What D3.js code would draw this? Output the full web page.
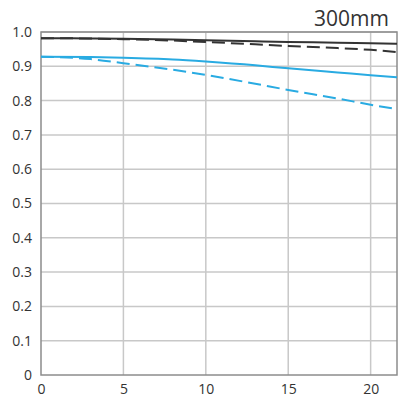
<!DOCTYPE html>
<html>
<head>
<meta charset="utf-8">
<script src="https://cdn.jsdelivr.net/npm/d3@7"></script>
<style>
  body { margin: 0; background: #fff; }
  text { font-family: "Open Sans", "DejaVu Sans", sans-serif; fill: #333; }
</style>
</head>
<body>
<div id="chart"></div>
<script>
// image height (mm)
var xValues = [0, 3, 5, 8, 10, 13, 15, 18, 20, 21.6];

// MTF values
var blackSolid  = [0.982, 0.981, 0.980, 0.978, 0.976, 0.973, 0.971, 0.969, 0.967, 0.966];
var blackDashed = [0.982, 0.981, 0.979, 0.975, 0.971, 0.964, 0.959, 0.953, 0.948, 0.941];
var blueSolid   = [0.928, 0.927, 0.925, 0.920, 0.914, 0.903, 0.894, 0.882, 0.874, 0.868];
var blueDashed  = [0.928, 0.921, 0.909, 0.890, 0.875, 0.849, 0.831, 0.806, 0.788, 0.775];

var xTicks = [0, 5, 10, 15, 20];
var yTicks = [0, 0.1, 0.2, 0.3, 0.4, 0.5, 0.6, 0.7, 0.8, 0.9, 1.0];
var title = "300mm";

var svgWidth = 410;
var svgHeight = 412;
var margin = { top: 32, bottom: 37, right: 13, left: 41 };
var width = svgWidth - margin.left - margin.right;
var height = svgHeight - margin.top - margin.bottom;

var svg = d3.select("#chart")
  .append("svg")
  .attr("width", svgWidth)
  .attr("height", svgHeight);

var chartGroup = svg.append("g")
  .attr("transform", `translate(${margin.left}, ${margin.top})`);

var xscale = d3.scaleLinear().domain([0, 21.6]).range([0, width]);
var yscale = d3.scaleLinear().domain([0, 1]).range([height, 0]);

// grid lines
chartGroup.selectAll(".vgrid")
  .data(xTicks.slice(1))
  .enter()
  .append("line")
  .attr("x1", d => xscale(d)).attr("x2", d => xscale(d))
  .attr("y1", 0).attr("y2", height)
  .attr("stroke", "#c8c8c8")
  .attr("stroke-width", 1.5);

chartGroup.selectAll(".hgrid")
  .data(yTicks.slice(1))
  .enter()
  .append("line")
  .attr("x1", 0).attr("x2", width)
  .attr("y1", d => yscale(d)).attr("y2", d => yscale(d))
  .attr("stroke", "#c8c8c8")
  .attr("stroke-width", 1.5);

// frame
chartGroup.append("rect")
  .attr("width", width)
  .attr("height", height)
  .attr("fill", "none")
  .attr("stroke", "#8c8c8c")
  .attr("stroke-width", 1.5);

// axes
var bottomAxis = d3.axisBottom(xscale).tickValues(xTicks).tickSize(0).tickPadding(9);
var leftAxis = d3.axisLeft(yscale).tickValues(yTicks).tickSize(0).tickPadding(9)
  .tickFormat(d => d === 0 ? "0" : d3.format(".1f")(d));

var xAxisG = chartGroup.append("g")
  .attr("transform", `translate(0, ${height})`)
  .call(bottomAxis);
var yAxisG = chartGroup.append("g").call(leftAxis);

[xAxisG, yAxisG].forEach(function(g) {
  g.select(".domain").remove();
  g.selectAll("text")
    .style("font-size", "14px")
    .style("font-family", "'Open Sans', 'DejaVu Sans', sans-serif")
    .attr("fill", "#333");
});

// curves
var line = d3.line()
  .x((d, i) => xscale(xValues[i]))
  .y(d => yscale(d))
  .curve(d3.curveMonotoneX);

var series = [
  { values: blackSolid,  color: "#333333", dash: null },
  { values: blackDashed, color: "#333333", dash: "13,6" },
  { values: blueSolid,   color: "#29abe2", dash: null },
  { values: blueDashed,  color: "#29abe2", dash: "13,6" }
];

chartGroup.selectAll(".curve")
  .data(series)
  .enter()
  .append("path")
  .attr("d", d => line(d.values))
  .attr("fill", "none")
  .attr("stroke", d => d.color)
  .attr("stroke-width", 2)
  .attr("stroke-dasharray", d => d.dash);

// title
svg.append("text")
  .attr("x", 389)
  .attr("y", 26)
  .attr("text-anchor", "end")
  .style("font-size", "21px")
  .attr("fill", "#333")
  .text(title);
</script>
</body>
</html>
